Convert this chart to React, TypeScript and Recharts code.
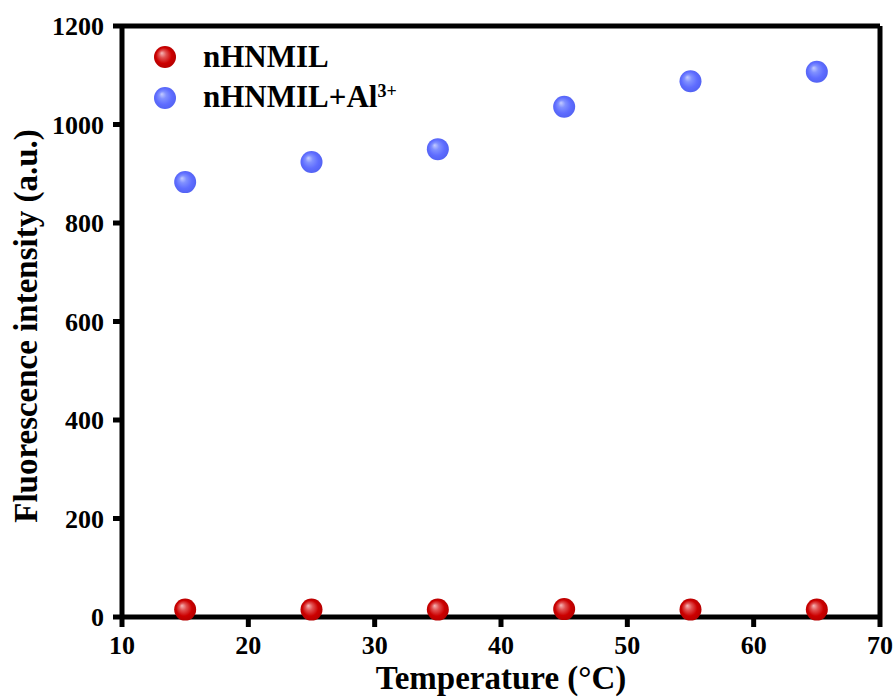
import React from 'react';
import { ScatterChart, Scatter, XAxis, YAxis, ReferenceLine, Legend } from 'recharts';

const temperatures = [15, 25, 35, 45, 55, 65];
const nhnmil = [15, 15, 15, 16, 15, 15];
const nhnmilAl = [883, 924, 950, 1036, 1088, 1107];
const xTicks = [10, 20, 30, 40, 50, 60, 70];
const yTicks = [0, 200, 400, 600, 800, 1000, 1200];

const redData = temperatures.map((t, i) => ({ x: t, y: nhnmil[i] }));
const blueData = temperatures.map((t, i) => ({ x: t, y: nhnmilAl[i] }));

const FONT = '"Liberation Serif", "Times New Roman", serif';

const Gradients = () => (
  <defs>
    <radialGradient id="sphRed" cx="50%" cy="50%" r="55%" fx="35%" fy="32%">
      <stop offset="0%" stopColor="#f6b8b8" />
      <stop offset="30%" stopColor="#e05050" />
      <stop offset="65%" stopColor="#cc0000" />
      <stop offset="100%" stopColor="#b00000" />
    </radialGradient>
    <radialGradient id="sphBlue" cx="50%" cy="50%" r="55%" fx="35%" fy="32%">
      <stop offset="0%" stopColor="#c4ccff" />
      <stop offset="30%" stopColor="#8090ff" />
      <stop offset="65%" stopColor="#5f6dff" />
      <stop offset="100%" stopColor="#5060f0" />
    </radialGradient>
  </defs>
);

const sphere = (id: string) => (props: any) => {
  const { cx, cy } = props;
  if (cx == null || cy == null) return null;
  return (
    <g>
      <Gradients />
      <circle cx={cx} cy={cy} r={11} fill={`url(#${id})`} />
    </g>
  );
};

const LegendContent = () => (
  <svg width={320} height={95} style={{ overflow: 'visible' }}>
    <Gradients />
    <circle cx={15} cy={27} r={11} fill="url(#sphRed)" />
    <circle cx={15} cy={68} r={11} fill="url(#sphBlue)" />
    <text x={53} y={37} fontFamily={FONT} fontWeight="bold" fontSize={31} fill="#000">nHNMIL</text>
    <text x={53} y={77} fontFamily={FONT} fontWeight="bold" fontSize={31} fill="#000">
      nHNMIL+Al
      <tspan fontSize={18} dy={-10}>3+</tspan>
    </text>
  </svg>
);

const tickStyle = { fontFamily: FONT, fontWeight: 'bold', fontSize: 26, fill: '#000' } as any;

export default function App() {
  return (
    <div style={{ position: 'absolute', left: 0, top: 0, width: 896, height: 698, background: '#fff' }}>
      <ScatterChart width={896} height={698} margin={{ top: 26, right: 16, left: 0, bottom: 0 }}>
        <XAxis
          type="number"
          dataKey="x"
          domain={[10, 70]}
          ticks={xTicks}
          interval={0}
          height={81}
          tick={tickStyle}
          tickSize={10}
          tickMargin={9}
          axisLine={{ stroke: '#000', strokeWidth: 5 }}
          tickLine={{ stroke: '#000', strokeWidth: 5 }}
          label={(p: any) => (
            <text x={501} y={689} textAnchor="middle" fontFamily={FONT} fontWeight="bold" fontSize={33} fill="#000">
              Temperature (°C)
            </text>
          )}
        />
        <YAxis
          type="number"
          dataKey="y"
          domain={[0, 1200]}
          ticks={yTicks}
          interval={0}
          width={122}
          tick={tickStyle}
          tickSize={9}
          tickMargin={9}
          axisLine={{ stroke: '#000', strokeWidth: 5 }}
          tickLine={{ stroke: '#000', strokeWidth: 5 }}
          label={(p: any) => (
            <text
              x={37}
              y={326}
              transform="rotate(-90 37 326)"
              textAnchor="middle"
              fontFamily={FONT}
              fontWeight="bold"
              fontSize={33}
              fill="#000"
            >
              Fluorescence intensity (a.u.)
            </text>
          )}
        />
        <ReferenceLine y={1200} stroke="#000" strokeWidth={5} />
        <ReferenceLine x={70} stroke="#000" strokeWidth={5} />
        <Legend
          layout="vertical"
          align="center"
          verticalAlign="middle"
          content={() => <LegendContent />}
          wrapperStyle={{ position: 'absolute', left: 150, top: 30, width: 320, height: 95 }}
        />
        <Scatter name="nHNMIL" data={redData} shape={sphere('sphRed')} isAnimationActive={false} />
        <Scatter name="nHNMIL+Al3+" data={blueData} shape={sphere('sphBlue')} isAnimationActive={false} />
      </ScatterChart>
    </div>
  );
}
